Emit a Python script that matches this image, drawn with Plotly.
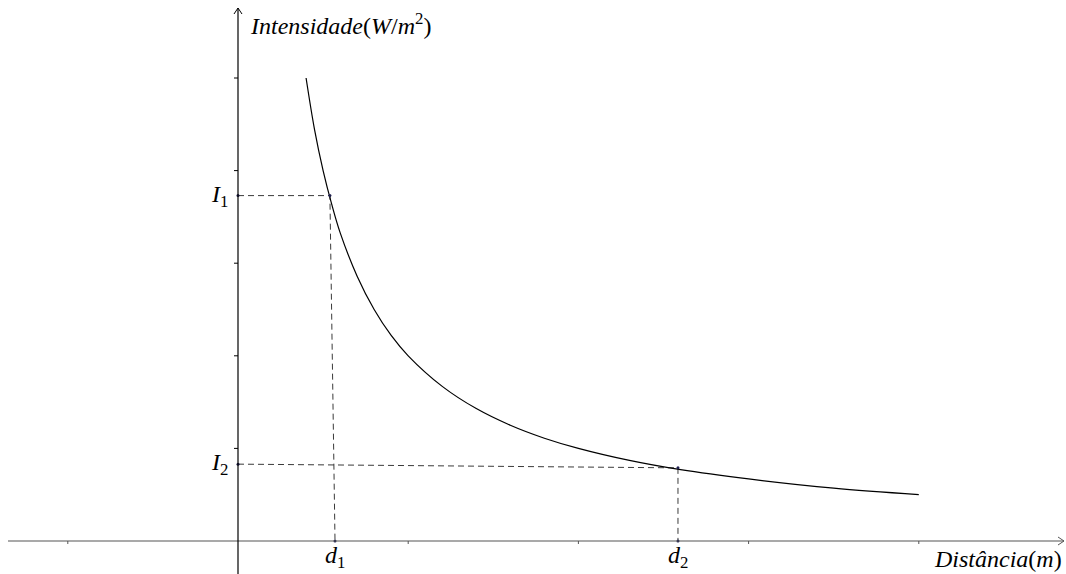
import plotly.graph_objects as go

# ---- data (axis-tick units) ----
distance = [0.40, 0.45, 0.50, 0.55, 0.60, 0.70, 0.80, 0.90, 1.00, 1.20, 1.40,
            1.60, 1.80, 2.00, 2.30, 2.60, 3.00, 3.50, 4.00]
intensity = [5.00, 4.44, 4.00, 3.64, 3.33, 2.86, 2.50, 2.22, 2.00, 1.67, 1.43,
             1.25, 1.11, 1.00, 0.87, 0.77, 0.67, 0.57, 0.50]

x_ticks = [-1, 1, 2, 3, 4]
y_ticks = [1, 2, 3, 4, 5]

# marked points: curve point, point on x axis, point on y axis
p1_curve = (0.54, 3.73)
d1_axis = 0.57
i1_axis = 3.73
p2_curve = (2.585, 0.79)
d2_axis = 2.585
i2_axis = 0.83

x_label = "<i>Distância</i>(<i>m</i>)"
y_label = "<i>Intensidade</i>(<i>W</i>/<i>m</i><sup>2</sup>)"
labels_x = ["<i>d</i><sub>1</sub>", "<i>d</i><sub>2</sub>"]
labels_y = ["<i>I</i><sub>1</sub>", "<i>I</i><sub>2</sub>"]

# ---- layout geometry ----
W, H = 1066, 574
ox, oy = 238, 541          # pixel position of the origin
ux, uy = 170.2, 92.6       # pixels per unit
x_range = [-ox / ux, (W - ox) / ux]
y_range = [-(H - oy) / uy, oy / uy]
x_axis_start = (8 - ox) / ux
x_axis_end = (1064 - ox) / ux
y_axis_end = (oy - 8) / uy

FONT = "Liberation Serif"
AXIS_COL = "#555555"
DASH_COL = "#3a3a3a"
DOT_COL = "#1f1f4f"
fs = 24

fig = go.Figure()

# dashed guide lines
for pts in ([(0, i1_axis), p1_curve, (d1_axis, 0)],
            [(0, i2_axis), p2_curve, (d2_axis, 0)]):
    fig.add_trace(go.Scatter(
        x=[p[0] for p in pts], y=[p[1] for p in pts],
        mode="lines", line=dict(color=DASH_COL, width=1, dash="6px,4px"),
        hoverinfo="skip", showlegend=False))

# the curve
fig.add_trace(go.Scatter(
    x=distance, y=intensity, mode="lines", line_shape="spline",
    line=dict(color="black", width=1.2), showlegend=False))

# dots
fig.add_trace(go.Scatter(
    x=[0, p1_curve[0], d1_axis, 0, p2_curve[0], d2_axis],
    y=[i1_axis, p1_curve[1], 0, i2_axis, p2_curve[1], 0],
    mode="markers", marker=dict(color=DOT_COL, size=3),
    hoverinfo="skip", showlegend=False))

shapes = []
# axes
shapes.append(dict(type="line", xref="x", yref="y", x0=x_axis_start, x1=x_axis_end,
                   y0=0, y1=0, line=dict(color=AXIS_COL, width=1.2)))
shapes.append(dict(type="line", xref="x", yref="y", x0=0, x1=0,
                   y0=y_range[0], y1=y_axis_end, line=dict(color="black", width=1.2)))
# arrowheads
shapes.append(dict(type="path", xref="x", yref="y", xsizemode="pixel", ysizemode="pixel",
                   xanchor=x_axis_end, yanchor=0,
                   path="M -6 4 L 0 0 L -6 -4", line=dict(color=AXIS_COL, width=1)))
shapes.append(dict(type="path", xref="x", yref="y", xsizemode="pixel", ysizemode="pixel",
                   xanchor=0, yanchor=y_axis_end,
                   path="M -4 -6 L 0 0 L 4 -6", line=dict(color="black", width=1)))
# ticks
for t in x_ticks:
    shapes.append(dict(type="line", xref="x", yref="y", ysizemode="pixel", yanchor=0,
                       x0=t, x1=t, y0=0, y1=-3, line=dict(color=AXIS_COL, width=1)))
for t in y_ticks:
    shapes.append(dict(type="line", xref="x", yref="y", xsizemode="pixel", xanchor=0,
                       x0=-4, x1=0, y0=t, y1=t, line=dict(color="black", width=1)))

font = dict(family=FONT, size=fs, color="black")
ann = []
ann.append(dict(x=(248 - ox) / ux, y=(oy - 24) / uy, xanchor="left", yanchor="middle",
                text=y_label, showarrow=False, font=font))
ann.append(dict(x=(1064 - ox) / ux, y=-(559 - oy) / uy, xanchor="right", yanchor="middle",
                text=x_label, showarrow=False, font=font))
for lx, xv in zip(labels_x, [d1_axis, d2_axis]):
    ann.append(dict(x=xv, y=-(557 - oy) / uy, xanchor="center", yanchor="middle",
                    text=lx, showarrow=False, font=font))
for ly, yv in zip(labels_y, [i1_axis, i2_axis]):
    ann.append(dict(x=-(8) / ux, y=yv, xanchor="right", yanchor="middle",
                    text=ly, showarrow=False, font=font))

fig.update_layout(
    width=W, height=H, autosize=False,
    margin=dict(l=0, r=0, t=0, b=0, pad=0),
    paper_bgcolor="white", plot_bgcolor="white",
    xaxis=dict(range=x_range, visible=False, fixedrange=True),
    yaxis=dict(range=y_range, visible=False, fixedrange=True),
    shapes=shapes, annotations=ann, showlegend=False,
)

fig.write_html("out.html")
